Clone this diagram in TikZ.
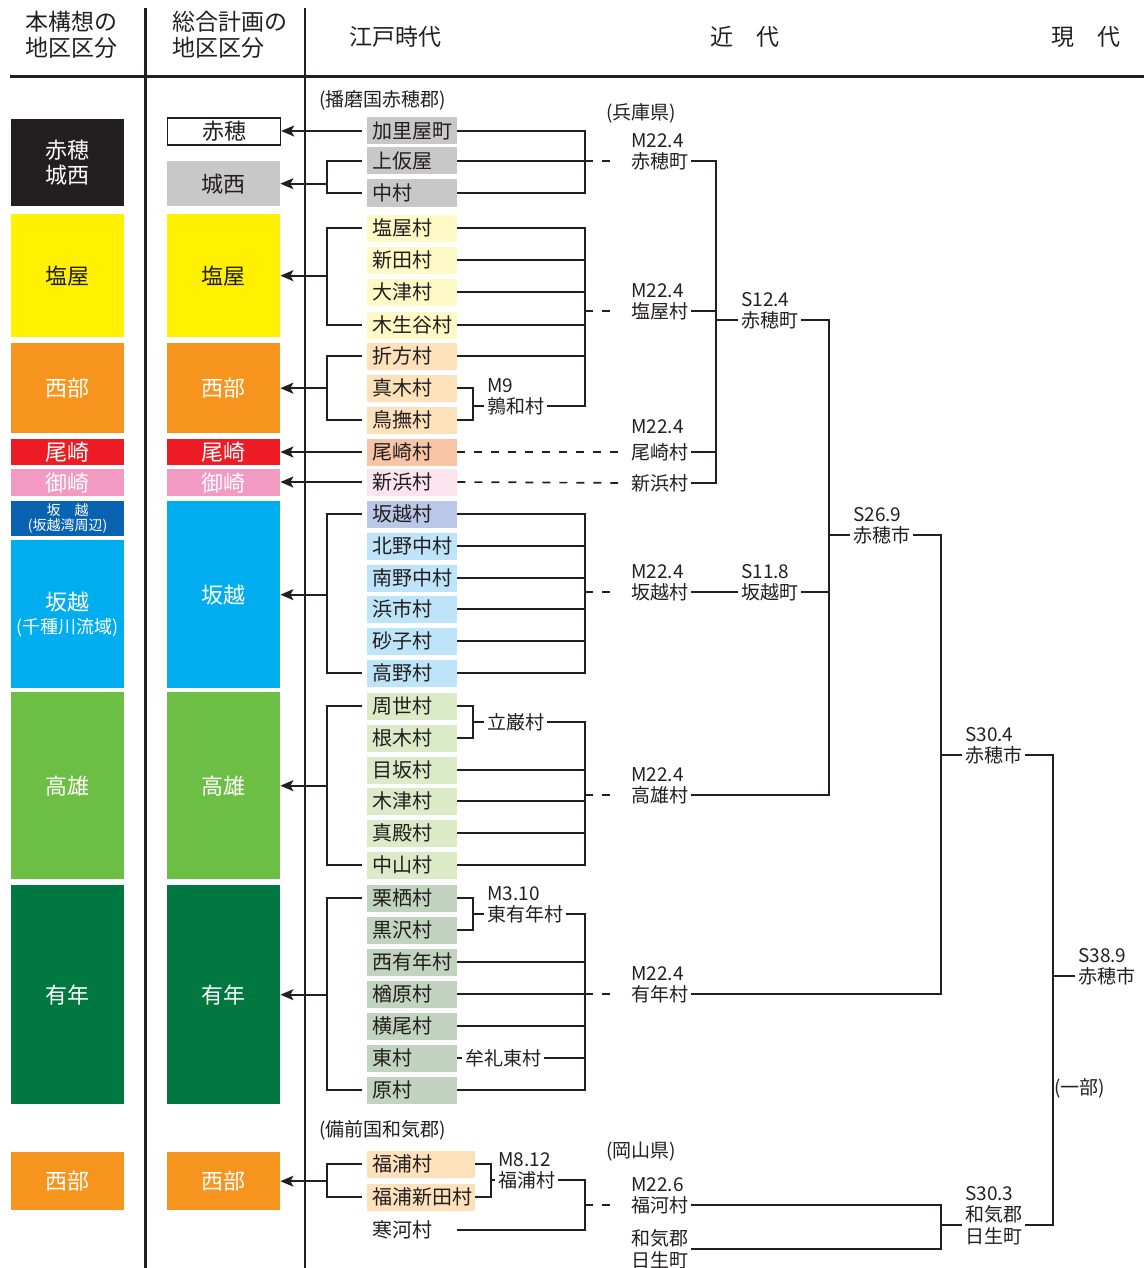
\documentclass[tikz,border=0pt]{standalone}
\usepackage{fontspec}
\setmainfont{Noto Sans CJK JP}
\usetikzlibrary{arrows.meta,positioning}
\definecolor{ink}     {HTML}{231F20}
\definecolor{shioYel} {HTML}{FFF100}
\definecolor{seibuOr} {HTML}{F7941D}
\definecolor{osakiRed}{HTML}{ED1C24}
\definecolor{misakiPk}{HTML}{F39AC2}
\definecolor{wanBlue} {HTML}{0A63B0}
\definecolor{sakoCyan}{HTML}{00AEEF}
\definecolor{takaoGrn}{HTML}{6DBE45}
\definecolor{uneGrn}  {HTML}{00783F}
\definecolor{vGray}   {HTML}{C8C8C8}
\definecolor{vYel}    {HTML}{FFF9C6}
\definecolor{vOr}     {HTML}{FDE1BA}
\definecolor{vSalmon} {HTML}{F8C4A6}
\definecolor{vPink}   {HTML}{FCE4EE}
\definecolor{vLav}    {HTML}{B9C8E8}
\definecolor{vBlue}   {HTML}{BDE4F8}
\definecolor{vLgrn}   {HTML}{DCEBC7}
\definecolor{vGgrn}   {HTML}{C2D4BF}

\tikzset{
  ln/.style={draw=ink, line width=1.7pt},
  dsh/.style={ln, dash pattern=on 8pt off 9pt, shorten >=10pt},
  arr/.style={ln, -{Stealth[length=13pt,width=11pt,inset=3pt]}},
  region/.style={anchor=north west, minimum width=113pt, inner sep=0pt, align=center,
                 text=white, font=\fontsize{22}{25}\selectfont},
  vil/.style={anchor=west, minimum height=27pt, text width=80pt, inner xsep=5pt,
              inner ysep=0pt, align=left, text=ink, font=\fontsize{20}{22}\selectfont},
  lbl/.style={anchor=west, inner sep=3pt, text=ink, align=left, font=\fontsize{19}{22}\selectfont},
  yr/.style={lbl, anchor=south west, inner ysep=1pt},
  hd/.style={text=ink, align=left, font=\fontsize{23}{26}\selectfont},
}

\begin{document}
\begin{tikzpicture}[x=1pt,y=-1pt]
  \useasboundingbox (0,0) rectangle (1144,1268);

  % rules of the table
  \draw[ink, line width=3pt] (10,77) -- (1144,77);
  \draw[ink, line width=3pt] (145,8) -- (145,1268);
  \draw[ink, line width=1.2pt] (305,8) -- (305,1268);

  \node[hd, anchor=west] (hdHon)  at (22,35)  {本構想の\\地区区分};
  \node[hd, anchor=west] (hdSogo) at (169,35) {総合計画の\\地区区分};
  \node[hd] (hdEdo)    at (395,37)  {江戸時代};
  \node[hd] (hdKindai) at (745,37)  {近　代};
  \node[hd] (hdGendai) at (1086,37) {現　代};

  % column 1: districts of this plan
  \node[region, fill=ink, minimum height=87pt]      (hAkoJosei) at (11,119)  {赤穂\\城西};
  \node[region, fill=shioYel, text=ink, minimum height=123pt] (hShioya) at (11,214) {塩屋};
  \node[region, fill=seibuOr, minimum height=90pt]  (hSeibu)    at (11,343)  {西部};
  \node[region, fill=osakiRed, minimum height=26pt] (hOsaki)    at (11,439)  {尾崎};
  \node[region, fill=misakiPk, minimum height=27pt] (hMisaki)   at (11,469)  {御崎};
  \node[region, fill=wanBlue, minimum height=35pt,
        font=\fontsize{14}{15}\selectfont]          (hWan)      at (11,501)  {坂　越\\(坂越湾周辺)};
  \node[region, fill=sakoCyan, minimum height=148pt] (hChikusa) at (11,540)
        {坂越\\[-2pt]{\fontsize{18}{20}\selectfont(千種川流域)}};
  \node[region, fill=takaoGrn, minimum height=187pt] (hTakao)   at (11,692)  {高雄};
  \node[region, fill=uneGrn, minimum height=219pt]   (hUne)     at (11,885)  {有年};
  \node[region, fill=seibuOr, minimum height=58pt]   (hSeibuB)  at (11,1152) {西部};

  % column 2: districts of the general plan
  \node[region, fill=white, draw=ink, line width=1.2pt, text=ink, minimum height=27pt] (kAko) at (167,117.5) {赤穂};
  \node[region, fill=vGray, text=ink, minimum height=45pt]    (kJosei)   at (167,161)  {城西};
  \node[region, fill=shioYel, text=ink, minimum height=123pt] (kShioya)  at (167,214)  {塩屋};
  \node[region, fill=seibuOr, minimum height=90pt]   (kSeibu)   at (167,343)  {西部};
  \node[region, fill=osakiRed, minimum height=26pt]  (kOsaki)   at (167,439)  {尾崎};
  \node[region, fill=misakiPk, minimum height=27pt]  (kMisaki)  at (167,469)  {御崎};
  \node[region, fill=sakoCyan, minimum height=187pt] (kSakoshi) at (167,501)  {坂越};
  \node[region, fill=takaoGrn, minimum height=187pt] (kTakao)   at (167,692)  {高雄};
  \node[region, fill=uneGrn, minimum height=219pt]   (kUne)     at (167,885)  {有年};
  \node[region, fill=seibuOr, minimum height=58pt]   (kSeibuB)  at (167,1152) {西部};

  % Edo villages
  \node[lbl] (harima) at (316,100) {(播磨国赤穂郡)};
  \foreach \n/\y/\c/\t in {
      kariya/131/vGray/加里屋町, kamikariya/161/vGray/上仮屋, nakamura/193/vGray/中村,
      shioya/228/vYel/塩屋村, shinden/260/vYel/新田村, otsu/292/vYel/大津村, kinyudani/325/vYel/木生谷村,
      orikata/356/vOr/折方村, maki/388/vOr/真木村, ubu/420/vOr/鳥撫村,
      osaki/452/vSalmon/尾崎村, shinhama/482/vPink/新浜村,
      sakoshi/514/vLav/坂越村, kitanonaka/546/vBlue/北野中村, minaminonaka/578/vBlue/南野中村,
      hamaichi/609/vBlue/浜市村, masago/641/vBlue/砂子村, takano/673/vBlue/高野村,
      suse/706/vLgrn/周世村, neki/738/vLgrn/根木村, mesaka/770/vLgrn/目坂村,
      kizu/801/vLgrn/木津村, madono/833/vLgrn/真殿村, nakayama/865/vLgrn/中山村,
      kurusu/898/vGgrn/栗栖村, kurosawa/930/vGgrn/黒沢村, nishiune/962/vGgrn/西有年村,
      narahara/994/vGgrn/楢原村, yokoo/1026/vGgrn/横尾村, higashi/1058/vGgrn/東村, hara/1090/vGgrn/原村}
    \node[vil, fill=\c] (\n) at (367,\y) {\t};
  \node[lbl] (bizen) at (316,1130) {(備前国和気郡)};
  \node[vil, fill=vOr, text width=98pt] (fukuura)        at (367,1164) {福浦村};
  \node[vil, fill=vOr, text width=98pt] (fukuurashinden) at (367,1197) {福浦新田村};
  \node[vil] (sogo) at (367,1230) {寒河村};

  % early Meiji mergers
  \node[lbl] (uwa) at (484,406) {鶉和村};
  \node[yr] (uwaY) at (uwa.north west) {M9};
  \node[lbl] (tatsuiwa) at (484,722) {立巌村};
  \node[lbl] (higashiune) at (484,914) {東有年村};
  \node[yr] (higashiuneY) at (higashiune.north west) {M3.10};
  \node[lbl] (murehigashi) at (462,1058) {牟礼東村};
  \node[lbl] (fukuura2) at (495,1180) {福浦村};
  \node[yr] (fukuura2Y) at (fukuura2.north west) {M8.12};

  % Meiji 22 towns and villages
  \node[lbl] (hyogo) at (603,113) {(兵庫県)};
  \node[lbl] (mAko)      at (628,161) {赤穂町};
  \node[yr]  (mAkoY)     at (mAko.north west) {M22.4};
  \node[lbl] (mShioya)   at (628,311) {塩屋村};
  \node[yr]  (mShioyaY)  at (mShioya.north west) {M22.4};
  \node[lbl] (mOsaki)    at (628,452) {尾崎村};
  \node[yr]  (mOsakiY)   at ([yshift=5pt]mOsaki.north west) {M22.4};
  \node[lbl] (mShinhama) at (628,483) {新浜村};
  \node[lbl] (mSakoshi)  at (628,592) {坂越村};
  \node[yr]  (mSakoshiY) at (mSakoshi.north west) {M22.4};
  \node[lbl] (mTakao)    at (628,795) {高雄村};
  \node[yr]  (mTakaoY)   at (mTakao.north west) {M22.4};
  \node[lbl] (mUne)      at (628,994) {有年村};
  \node[yr]  (mUneY)     at (mUne.north west) {M22.4};
  \node[lbl] (okayama) at (603,1152) {(岡山県)};
  \node[lbl] (mFukawa)   at (628,1205) {福河村};
  \node[yr]  (mFukawaY)  at (mFukawa.north west) {M22.6};
  \node[lbl] (mHinase)   at (628,1249) {和気郡\\日生町};

  % Showa
  \node[lbl] (shAkoCho)     at (738,320)  {赤穂町};
  \node[yr]  (shAkoChoY)    at (shAkoCho.north west) {S12.4};
  \node[lbl] (shSakoshiCho) at (738,592)  {坂越町};
  \node[yr]  (shSakoshiChoY) at (shSakoshiCho.north west) {S11.8};
  \node[lbl] (shAko26)      at (850,535)  {赤穂市};
  \node[yr]  (shAko26Y)     at (shAko26.north west) {S26.9};
  \node[lbl] (shAko30)      at (962,755)  {赤穂市};
  \node[yr]  (shAko30Y)     at (shAko30.north west) {S30.4};
  \node[lbl] (shHinase)     at (962,1225) {和気郡\\日生町};
  \node[yr]  (shHinaseY)    at (shHinase.north west) {S30.3};
  \node[lbl] (shAko38)      at (1075,976) {赤穂市};
  \node[yr]  (shAko38Y)     at (shAko38.north west) {S38.9};

  \coordinate (bL) at (327,0);
  \coordinate (jM) at (473,0);
  \coordinate (jN) at (491,0);
  \coordinate (jR) at (585,0);
  \coordinate (tA) at (716,0);
  \coordinate (tB) at (829,0);
  \coordinate (tC) at (941,0);
  \coordinate (tD) at (1053,0);
  \node[lbl] (ichibu) at (1051,1088) {(一部)};

  % villages -> districts
  \draw[arr, shorten <=5pt] (kariya.west) -- (kariya.west -| kAko.east);
  \draw[arr, shorten <=5pt] (osaki.west) -- (osaki.west -| kOsaki.east);
  \draw[arr, shorten <=5pt] (shinhama.west) -- (shinhama.west -| kMisaki.east);
  \foreach \a/\b/\k in {kamikariya/nakamura/kJosei, shioya/kinyudani/kShioya, orikata/ubu/kSeibu,
                        sakoshi/takano/kSakoshi, suse/nakayama/kTakao, kurusu/hara/kUne,
                        fukuura/fukuurashinden/kSeibuB} {
    \draw[ln, shorten <=5pt, shorten >=5pt] (\a.west) -| (\b.west -| bL) -- (\b.west);
    \draw[arr] (\k.east -| bL) -- (\k.east);
  }

  % small mergers
  \draw[ln] (maki.east) -| (ubu.east -| jM) -- (ubu.east);
  \draw[ln] (uwa.west -| jM) -- (uwa.west);
  \draw[ln] (suse.east) -| (neki.east -| jM) -- (neki.east);
  \draw[ln] (tatsuiwa.west -| jM) -- (tatsuiwa.west);
  \draw[ln] (kurusu.east) -| (kurosawa.east -| jM) -- (kurosawa.east);
  \draw[ln] (higashiune.west -| jM) -- (higashiune.west);
  \draw[ln] (higashi.east) -- (murehigashi.west);
  \draw[ln] (fukuura.east) -| (fukuurashinden.east -| jN) -- (fukuurashinden.east);
  \draw[ln] (fukuura2.west -| jN) -- (fukuura2.west);

  % into the Meiji 22 municipalities
  \draw[ln] (kariya.east) -| (nakamura.east -| jR) -- (nakamura.east);
  \draw[ln] (kamikariya.east) -- (kamikariya.east -| jR);
  \draw[dsh] (mAko.west -| jR) -- (mAko.west);

  \draw[ln] (shioya.east) -| (uwa.east -| jR) -- (uwa.east);
  \foreach \v in {shinden, otsu, kinyudani, orikata}
    \draw[ln] (\v.east) -- (\v.east -| jR);
  \draw[dsh] (mShioya.west -| jR) -- (mShioya.west);

  \draw[dsh] (osaki.east) -- (mOsaki.west);
  \draw[dsh] (shinhama.east) -- (mShinhama.west);

  \draw[ln] (sakoshi.east) -| (takano.east -| jR) -- (takano.east);
  \foreach \v in {kitanonaka, minaminonaka, hamaichi, masago}
    \draw[ln] (\v.east) -- (\v.east -| jR);
  \draw[dsh] (mSakoshi.west -| jR) -- (mSakoshi.west);

  \draw[ln] (tatsuiwa.east) -| (nakayama.east -| jR) -- (nakayama.east);
  \foreach \v in {mesaka, kizu, madono}
    \draw[ln] (\v.east) -- (\v.east -| jR);
  \draw[dsh] (mTakao.west -| jR) -- (mTakao.west);

  \draw[ln] (higashiune.east) -| (hara.east -| jR) -- (hara.east);
  \foreach \v in {nishiune, narahara, yokoo}
    \draw[ln] (\v.east) -- (\v.east -| jR);
  \draw[ln] (murehigashi.east) -- (murehigashi.east -| jR);
  \draw[dsh] (mUne.west -| jR) -- (mUne.west);

  \draw[ln] (fukuura2.east) -| (sogo.east -| jR) -- (sogo.east);
  \draw[dsh] (mFukawa.west -| jR) -- (mFukawa.west);

  % later mergers
  \draw[ln] (mAko.east) -| (mShinhama.east -| tA) -- (mShinhama.east);
  \draw[ln] (mShioya.east) -- (mShioya.east -| tA);
  \draw[ln] (mOsaki.east) -- (mOsaki.east -| tA);
  \draw[ln] (shAkoCho.west -| tA) -- (shAkoCho.west);

  \draw[ln] (shAkoCho.east) -| (mTakao.east -| tB) -- (mTakao.east);
  \draw[ln] (mSakoshi.east) -- (shSakoshiCho.west);
  \draw[ln] (shSakoshiCho.east) -- (shSakoshiCho.east -| tB);
  \draw[ln] (shAko26.west -| tB) -- (shAko26.west);

  \draw[ln] (shAko26.east) -| (mUne.east -| tC) -- (mUne.east);
  \draw[ln] (shAko30.west -| tC) -- (shAko30.west);
  \draw[ln] (mFukawa.east) -| (mHinase.east -| tC) -- (mHinase.east);
  \draw[ln] (shHinase.west -| tC) -- (shHinase.west);

  \draw[ln] (shAko30.east) -| (shHinase.east -| tD) -- (shHinase.east);
  \draw[ln] (shAko38.west -| tD) -- (shAko38.west);
\end{tikzpicture}
\end{document}
